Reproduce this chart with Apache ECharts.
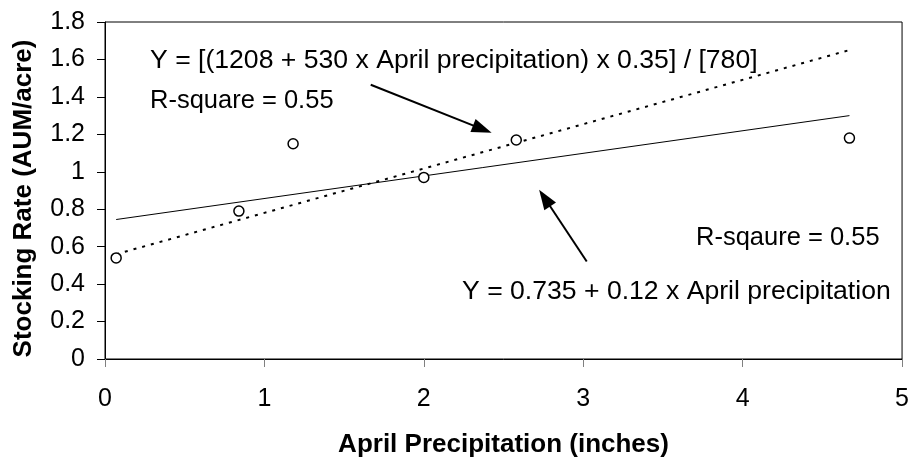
<!DOCTYPE html>
<html>
<head>
<meta charset="utf-8">
<script src="https://cdn.jsdelivr.net/npm/echarts@6/dist/echarts.min.js"></script>
<style>
html,body{margin:0;padding:0;background:#fff;}
#chart{width:912px;height:463px;}
</style>
</head>
<body>
<div id="chart"></div>
<script>
// Observed data (April precipitation in inches, stocking rate AUM/acre)
var precip = [0.07, 0.84, 1.18, 2.00, 2.58, 4.67];
var stocking = [0.54, 0.79, 1.15, 0.97, 1.17, 1.18];
// Fitted lines read at their end points
var solidLineX = [0.07, 4.67];
var solidLineY = [0.745, 1.30];
var dottedLineX = [0.07, 4.67];
var dottedLineY = [0.56, 1.65];
// Arrow end points (data coordinates): start, head
var arrowTopFrom = [1.667, 1.465];
var arrowTopTo = [2.367, 1.228];
var arrowBottomFrom = [3.022, 0.521];
var arrowBottomTo = [2.758, 0.860];
// Annotation texts
var eqTop = 'Y = [(1208 + 530 x April precipitation) x 0.35] / [780]';
var r2Top = 'R-square = 0.55';
var r2Bottom = 'R-sqaure = 0.55';
var eqBottom = 'Y = 0.735 + 0.12 x April precipitation';
var xTitle = 'April Precipitation (inches)';
var yTitle = 'Stocking Rate (AUM/acre)';

function pairs(xs, ys){ return xs.map(function(x,i){ return [x, ys[i]]; }); }

var FONT = '"Liberation Sans", Arial, Helvetica, sans-serif';
var chart = echarts.init(document.getElementById('chart'), null, {renderer:'canvas'});
var option = {
  animation:false,
  backgroundColor:'#ffffff',
  textStyle:{fontFamily:FONT, color:'#000'},
  grid:{left:105, top:22, right:4, bottom:98, show:true, borderColor:'#000', borderWidth:1, backgroundColor:'transparent'},
  xAxis:{
    type:'value', min:0, max:5, interval:1,
    name:xTitle, nameLocation:'middle', nameGap:73,
    nameTextStyle:{fontFamily:FONT, fontSize:26, fontWeight:'bold', color:'#000'},
    axisLine:{lineStyle:{color:'#000', width:1}},
    axisTick:{show:true, inside:false, length:8, lineStyle:{color:'#808080', width:1}},
    axisLabel:{fontFamily:FONT, fontSize:25, color:'#000', margin:28},
    splitLine:{show:false}
  },
  yAxis:{
    type:'value', min:0, max:1.8, interval:0.2,
    name:yTitle, nameLocation:'middle', nameGap:68, nameRotate:90,
    nameTextStyle:{fontFamily:FONT, fontSize:26, fontWeight:'bold', color:'#000', padding:[0,16,0,0]},
    axisLine:{show:true, lineStyle:{color:'#000', width:1}},
    axisTick:{show:true, inside:false, length:8, lineStyle:{color:'#000', width:1}},
    axisLabel:{fontFamily:FONT, fontSize:25, color:'#000', margin:20},
    splitLine:{show:false}
  },
  series:[
    {
      type:'line', data:pairs(solidLineX, solidLineY), showSymbol:false, symbol:'none',
      lineStyle:{color:'#000', width:1, type:'solid'}, z:2, silent:true
    },
    {
      type:'line', data:pairs(dottedLineX, dottedLineY), showSymbol:false, symbol:'none',
      lineStyle:{color:'#000', width:2, type:[3,6]}, z:2, silent:true
    },
    {
      type:'scatter', data:pairs(precip, stocking), symbol:'circle', symbolSize:10,
      itemStyle:{color:'#fff', borderColor:'#000', borderWidth:1.5, opacity:1}, z:5,
      markLine:{
        silent:true, animation:false,
        symbol:['none','triangle'], symbolSize:[14,20],
        label:{show:false},
        lineStyle:{color:'#000', width:2, type:'solid'},
        itemStyle:{color:'#000'},
        data:[
          [{coord:arrowTopFrom}, {coord:arrowTopTo}],
          [{coord:arrowBottomFrom}, {coord:arrowBottomTo}]
        ]
      }
    }
  ],
  graphic:[
    {type:'text', x:150, y:61, style:{text:eqTop, fontFamily:FONT, fontSize:26.6, fill:'#000', verticalAlign:'middle', align:'left'}},
    {type:'text', x:150, y:101, style:{text:r2Top, fontFamily:FONT, fontSize:25.5, fill:'#000', verticalAlign:'middle', align:'left'}},
    {type:'text', x:696, y:238, style:{text:r2Bottom, fontFamily:FONT, fontSize:25.5, fill:'#000', verticalAlign:'middle', align:'left'}},
    {type:'text', x:462, y:292, style:{text:eqBottom, fontFamily:FONT, fontSize:26.6, fill:'#000', verticalAlign:'middle', align:'left'}}
  ]
};
chart.setOption(option);
</script>
</body>
</html>
